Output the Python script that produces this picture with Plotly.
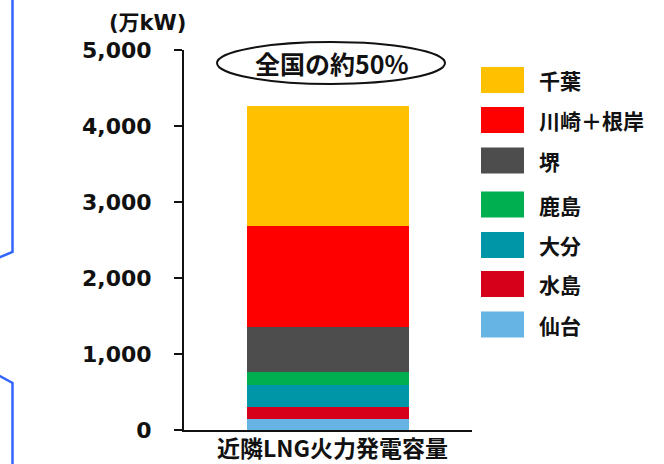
import plotly.graph_objects as go

# Capacity of nearby LNG-fired plants (10,000 kW), stacked bottom to top
plants = ["仙台", "水島", "大分", "鹿島", "堺", "川崎＋根岸", "千葉"]
capacity = [150, 155, 285, 170, 590, 1340, 1575]
colors = ["#65B4E4", "#D7001A", "#0096A8", "#00B050", "#4D4D4D", "#FF0000", "#FFC000"]
category = ["近隣LNG火力発電容量"]
y_ticks = [0, 1000, 2000, 3000, 4000, 5000]

W, H = 664, 464
M = dict(l=184, r=192, t=50, b=34)
PW = W - M["l"] - M["r"]
PH = H - M["t"] - M["b"]


def px(x):
    return (x - M["l"]) / PW


def py(y):
    return (H - M["b"] - y) / PH


NUM_FONT = "DejaVu Sans"
JP_FONT = "Noto Sans CJK JP"

fig = go.Figure()
for name, val, col in zip(plants, capacity, colors):
    fig.add_trace(go.Bar(
        x=category, y=[val], name=name,
        marker=dict(color=col, line=dict(width=0)),
        width=0.56, showlegend=False,
    ))

fig.update_layout(
    barmode="stack",
    width=W, height=H,
    margin=M,
    paper_bgcolor="white", plot_bgcolor="white",
    font=dict(family=JP_FONT, color="#111111", size=20, weight="bold"),
    xaxis=dict(
        range=[-0.5, 0.5], showline=True, linecolor="#111111", linewidth=2,
        ticks="", showticklabels=False,
        automargin=False, fixedrange=True,
    ),
    yaxis=dict(
        range=[0, 5000], tickvals=y_ticks, tickformat=",d",
        showline=True, linecolor="#111111", linewidth=2,
        ticks="outside", ticklen=8, tickwidth=2, tickcolor="#111111",
        ticklabelstandoff=18,
        showgrid=False, zeroline=False,
        tickfont=dict(size=22, family=NUM_FONT, weight="bold"),
        automargin=False, fixedrange=True,
    ),
)

shapes = []
annotations = []

# Category label under the bar
annotations.append(dict(
    x=px(332), y=py(447), xref="paper", yref="paper",
    text=category[0], showarrow=False, xanchor="center", yanchor="middle",
    font=dict(size=23, family=JP_FONT, weight="bold"),
))

# Unit label
annotations.append(dict(
    x=px(147), y=py(23), xref="paper", yref="paper",
    text="(万kW)", showarrow=False, xanchor="center", yanchor="middle",
    font=dict(size=21, family=NUM_FONT + ", " + JP_FONT, weight="bold"),
))

# Callout ellipse above the bar
shapes.append(dict(
    type="circle", xref="paper", yref="paper",
    x0=px(217), x1=px(445), y0=py(84), y1=py(42),
    line=dict(color="#111111", width=2), fillcolor="white",
))
annotations.append(dict(
    x=px(332), y=py(63), xref="paper", yref="paper",
    text="全国の約50%", showarrow=False, xanchor="center", yanchor="middle",
    font=dict(size=25, family=JP_FONT, weight="bold"),
))

# Legend: swatches and labels, top row = top of the stack
legend_rows = [80, 120, 160.5, 204.5, 245, 284, 324.5]
for yc, name, col in zip(legend_rows, plants[::-1], colors[::-1]):
    shapes.append(dict(
        type="rect", xref="paper", yref="paper",
        x0=px(481), x1=px(524), y0=py(yc + 13), y1=py(yc - 13),
        line=dict(width=0), fillcolor=col,
    ))
    annotations.append(dict(
        x=px(537), y=py(yc), xref="paper", yref="paper",
        text=name, showarrow=False, xanchor="left", yanchor="middle",
        font=dict(size=21, family=JP_FONT, weight="bold"),
    ))

# Blue bracket on the left edge
shapes.append(dict(
    type="path", xref="paper", yref="paper",
    path=f"M {px(12.5)},{py(-2)} L {px(12.5)},{py(252)} L {px(-2)},{py(258)}",
    line=dict(color="#3366FF", width=2.5),
))
shapes.append(dict(
    type="path", xref="paper", yref="paper",
    path=f"M {px(-2)},{py(375)} L {px(12.5)},{py(383)} L {px(12.5)},{py(466)}",
    line=dict(color="#3366FF", width=2.5),
))

fig.update_layout(shapes=shapes, annotations=annotations)
fig.write_html("out.html")
